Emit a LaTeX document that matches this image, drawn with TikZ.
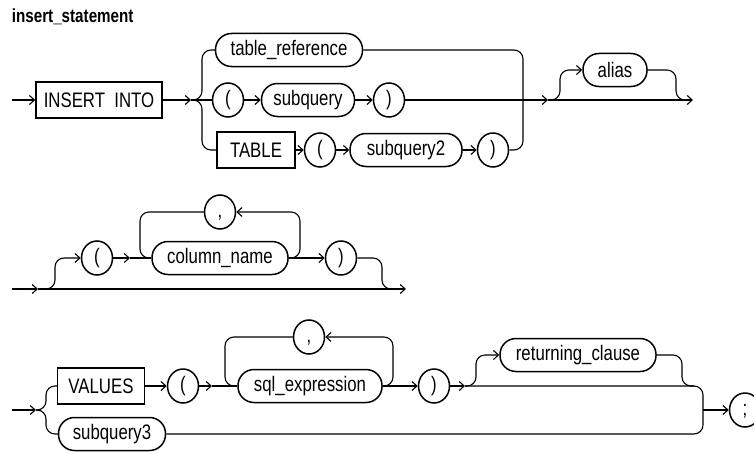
\documentclass[tikz,border=0pt]{standalone}
\usepackage{fontspec}
\setmainfont{Liberation Sans}[FakeStretch=0.8]
\usetikzlibrary{arrows.meta,shapes.geometric}
\begin{document}
\begin{tikzpicture}[x=1pt,y=-1pt,
  line width=1.1pt,
  conn/.style={line width=1.1pt, rounded corners=9pt},
  arr/.style={-{Straight Barb[length=5pt,width=9pt,line width=1.1pt]}},
  lbl/.style={font=\fontsize{21}{25}\selectfont},
  kw/.style={draw, lbl, line width=1.5pt, minimum height=36pt, inner sep=0pt},
  nt/.style={draw, lbl, line width=1.5pt, rounded corners=16pt, minimum height=33pt, inner sep=0pt},
  sym/.style={draw, lbl, ellipse, line width=1.5pt, minimum width=31pt, minimum height=34pt, inner sep=0pt, text height=15pt, text depth=4pt}]
\fill[white] (0,0) rectangle (754,452);
\useasboundingbox (0,0) rectangle (754,452);

\node[anchor=base west, font=\fontsize{19}{23}\selectfont\bfseries] (title) at (8,23) {insert\_statement};

% ---------- row 1 ----------
\coordinate (e1) at (12,100);
\node[kw, minimum width=126pt] (ins) at (99,100) {INSERT\ \ INTO};
\coordinate (j1) at (191,100);
\node[nt, minimum width=147pt] (tref) at (289,50) {table\_reference};
\node[sym] (lp1) at (228,100) {(};
\node[nt, minimum width=93pt] (sq) at (308,100) {subquery};
\node[sym] (rp1) at (389,100) {)};
\node[kw, minimum width=78pt] (tbl) at (256,150) {TABLE};
\node[sym] (lp2) at (320,150) {(};
\node[nt, minimum width=112pt] (sq2) at (406,150) {subquery2};
\node[sym] (rp2) at (493,150) {)};
\coordinate (j2) at (548,100);
\node[nt, minimum width=64pt] (alias) at (615,70) {alias};
\coordinate (e2) at (693,100);

\draw[arr] (e1) -- (ins.west);
\draw[arr] (ins.east) -- (j1);
\draw (j1) -- (lp1.west);
\draw[conn] (j1) -| (202,50) -- (tref.west);
\draw[conn] (j1) -| (202,150) -- (tbl.west);
\draw[arr] (lp1.east) -- (sq.west);
\draw[arr] (sq.east) -- (rp1.west);
\draw[arr] (rp1.east) -- (j2);
\draw[arr] (tbl.east) -- (lp2.west);
\draw[arr] (lp2.east) -- (sq2.west);
\draw[arr] (sq2.east) -- (rp2.west);
\draw[conn] (tref.east) -- (523,50) -- (523,150) -- (rp2.east);
\draw[arr] (j2) -- (e2);
\draw[conn, arr] (j2) -| (560,70) -- (alias.west);
\draw[conn] (alias.east) -- (676,70) -- (676,100) -- (688,100);

% ---------- row 2 ----------
\coordinate (e3) at (12,289);
\coordinate (j3) at (38,289);
\coordinate (e4) at (406,289);
\node[sym] (lp3) at (97,258) {(};
\coordinate (j4) at (130,258);
\node[nt, minimum width=136pt] (cn) at (220,258) {column\_name};
\node[sym] (cm1) at (220,212) {,};
\node[sym] (rp3) at (341,258) {)};

\draw[arr] (e3) -- (j3);
\draw[arr] (j3) -- (e4);
\draw[conn, arr] (j3) -| (55,258) -- (lp3.west);
\draw[arr] (lp3.east) -- (j4);
\draw (j4) -- (cn.west);
\draw[conn, arr] (cn.east) -- (300,258) -- (300,212) -- (cm1.east);
\draw[conn] (cm1.west) -- (140,212) -- (140,258) -- (cn.west);
\draw[arr] (cn.east) -- (rp3.west);
\draw[conn] (rp3.east) -- (382,258) -- (382,289) -- (394,289);

% ---------- row 3 ----------
\coordinate (e5) at (12,410);
\coordinate (j6) at (36,410);
\node[kw, minimum width=87pt] (val) at (101,386) {VALUES};
\node[nt, minimum width=107pt] (sq3) at (112,434) {subquery3};
\node[sym] (lp4) at (183,386) {(};
\coordinate (j7) at (212,386);
\node[nt, minimum width=144pt] (sqe) at (310,386) {sql\_expression};
\node[sym] (cm2) at (309,337) {,};
\node[sym] (rp4) at (434,386) {)};
\coordinate (j8) at (465,386);
\node[nt, minimum width=156pt] (ret) at (578,355) {returning\_clause};
\coordinate (j9) at (703,410);
\node[sym] (semi) at (745,410) {;};

\draw[arr] (e5) -- (j6);
\draw[conn] (j6) -| (46,386) -- (val.west);
\draw[conn] (j6) -| (46,434) -- (sq3.west);
\draw[arr] (val.east) -- (lp4.west);
\draw[arr] (lp4.east) -- (j7);
\draw (j7) -- (sqe.west);
\draw[conn, arr] (sqe.east) -- (393,386) -- (393,337) -- (cm2.east);
\draw[conn] (cm2.west) -- (225,337) -- (225,386) -- (sqe.west);
\draw[arr] (sqe.east) -- (rp4.west);
\draw[arr] (rp4.east) -- (j8);
\draw[conn, arr] (j8) -| (476,355) -- (ret.west);
\draw[conn] (ret.east) -- (682,355) -- (682,386) -- (694,386);
\draw[conn] (j8) -- (703,386) -- (703,434) -- (sq3.east);
\draw[arr] (j9) -- (semi.west);
\end{tikzpicture}
\end{document}
